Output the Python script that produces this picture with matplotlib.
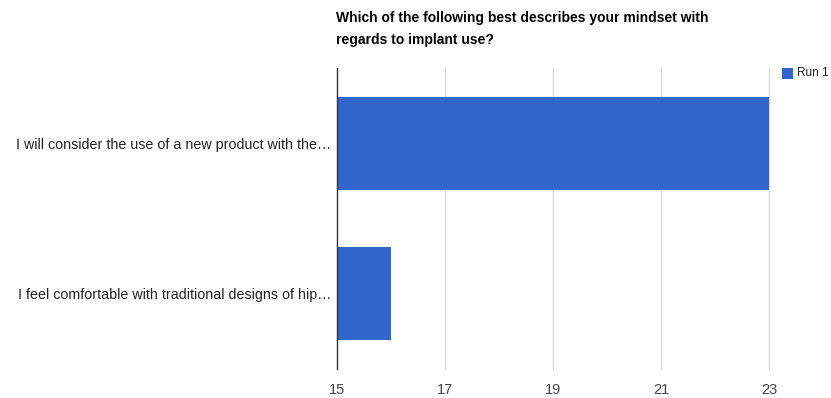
import matplotlib
matplotlib.use("Agg")
import matplotlib.pyplot as plt
from matplotlib.patches import Rectangle

plt.rcParams['font.family'] = ['Liberation Sans', 'DejaVu Sans']

title = "Which of the following best describes your mindset with\nregards to implant use?"
categories = [
    "I will consider the use of a new product with the\u2026",
    "I feel comfortable with traditional designs of hip\u2026",
]
values = [23, 16]
series_name = "Run 1"
x_ticks = [15, 17, 19, 21, 23]

W, H = 831, 398
fig = plt.figure(figsize=(W / 100, H / 100), dpi=100)
ax = fig.add_axes([337 / W, 1 - 369 / H, 432 / W, 301 / H])

bar_color = "#3366CC"
ypos = [0, 1]
ax.barh(ypos, [v - x_ticks[0] for v in values], left=x_ticks[0], height=0.62,
        color=bar_color, zorder=3)

ax.set_xlim(x_ticks[0], x_ticks[-1])
ax.set_ylim(1.5, -0.5)
ax.set_xticks(x_ticks)
ax.set_xticklabels([str(t) for t in x_ticks], fontsize=10.5, color="#444444")
ax.set_yticks(ypos)
ax.set_yticklabels(categories, fontsize=10.3, color="#222222")
ax.tick_params(axis="both", length=0)
ax.tick_params(axis="x", pad=10)
ax.tick_params(axis="y", pad=4)

for t in x_ticks[1:]:
    ax.axvline(t, color="#DDDDDD", linewidth=1, zorder=1, clip_on=False)

for s in ["top", "right", "bottom"]:
    ax.spines[s].set_visible(False)
ax.spines["left"].set_color("#333333")
ax.spines["left"].set_linewidth(1)
ax.spines["left"].set_zorder(4)

fig.text(336 / W, 1 - 29 / H, title, fontsize=10, fontweight="bold",
         color="#000000", ha="left", va="center", linespacing=1.65)

# legend
fig.patches.append(Rectangle((782 / W, 1 - 79 / H), 11 / W, 11 / H,
                             transform=fig.transFigure, facecolor=bar_color,
                             edgecolor="none"))
fig.text(797 / W, 1 - 73.5 / H, series_name, fontsize=8.5, color="#222222",
         ha="left", va="center")

fig.savefig("out.png", dpi=100)
